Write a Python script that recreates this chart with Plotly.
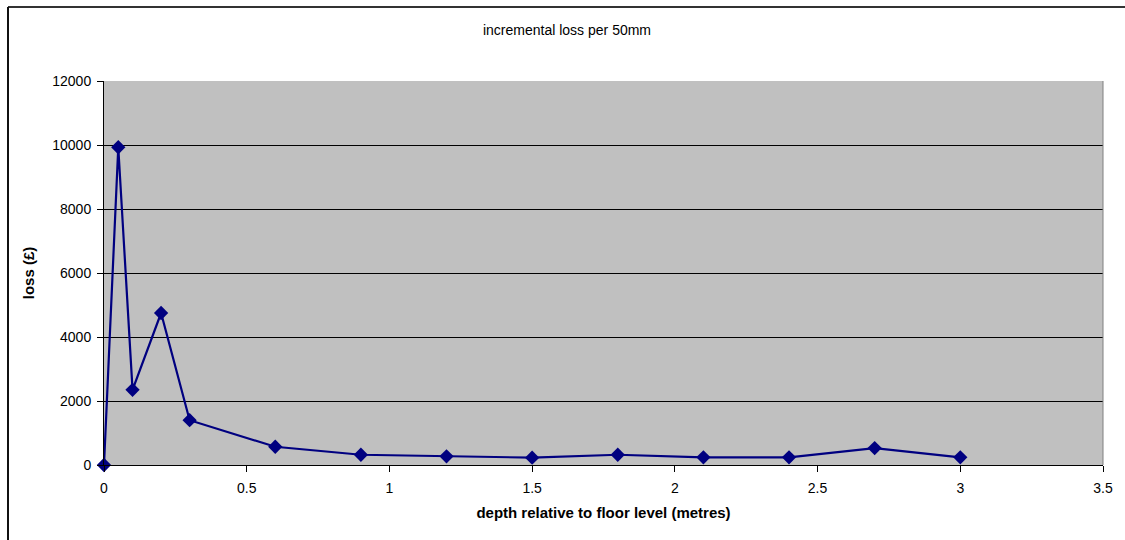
import plotly.graph_objects as go

depth = [0, 0.05, 0.1, 0.2, 0.3, 0.6, 0.9, 1.2, 1.5, 1.8, 2.1, 2.4, 2.7, 3.0]
loss = [0, 9930, 2350, 4750, 1400, 570, 320, 270, 230, 320, 240, 240, 530, 240]

title_text = "incremental loss per 50mm"
x_title = "depth relative to floor level (metres)"
y_title = "loss (£)"

L, R, T, B = 104, 22, 81, 75
W, H = 1125, 540
pw, ph = W - L - R, H - T - B

def px(x):
    return (x - L) / pw

def py(y):
    return (H - B - y) / ph

fig = go.Figure()
fig.add_trace(go.Scatter(
    x=depth, y=loss, mode="lines+markers",
    line=dict(color="#000080", width=2.2),
    marker=dict(symbol="diamond", size=11, color="#000080"),
    cliponaxis=False, showlegend=False,
))

fig.update_layout(
    width=W, height=H,
    margin=dict(l=L, r=R, t=T, b=B),
    paper_bgcolor="white",
    plot_bgcolor="#C0C0C0",
    font=dict(family="Liberation Sans, Arial, sans-serif", size=14, color="black"),
    title=dict(text=title_text, x=567 / W, xref="container", xanchor="center",
               y=1 - 30 / H, yref="container", yanchor="middle", font=dict(size=14)),
    xaxis=dict(range=[0, 3.5], dtick=0.5, showgrid=False, zeroline=False,
               showline=True, linecolor="black", linewidth=1,
               ticks="outside", ticklen=6, tickcolor="black", ticklabelstandoff=4,
               title=dict(text=x_title, font=dict(size=15, weight="bold"), standoff=12),
               tickfont=dict(size=14)),
    yaxis=dict(range=[0, 12000], dtick=2000, tickformat="d",
               showgrid=True, gridcolor="black", gridwidth=1,
               zeroline=False, showline=True, linecolor="black", linewidth=1,
               ticks="outside", ticklen=6, tickcolor="black", ticklabelstandoff=3,
               title=dict(text=y_title, font=dict(size=15, weight="bold"), standoff=14),
               tickfont=dict(size=14)),
    shapes=[
        dict(type="line", xref="paper", yref="paper", x0=1, x1=1, y0=0, y1=1,
             line=dict(color="#808080", width=1)),
        dict(type="line", xref="paper", yref="paper", x0=px(8), x1=px(W + 5), y0=py(7), y1=py(7),
             line=dict(color="#333333", width=2)),
        dict(type="line", xref="paper", yref="paper", x0=px(8), x1=px(8), y0=py(7), y1=py(H + 5),
             line=dict(color="#111111", width=2)),
    ],
)

fig.write_html("out.html")
